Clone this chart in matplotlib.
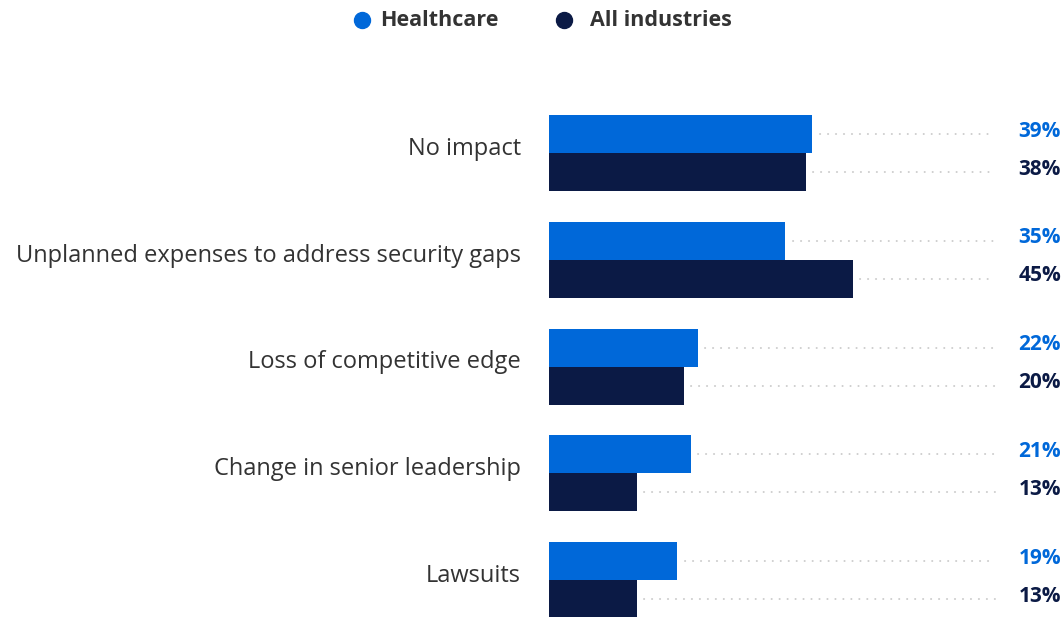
import matplotlib.pyplot as plt
import matplotlib.transforms as mtransforms
from matplotlib.lines import Line2D

plt.rcParams['font.family'] = ['Open Sans', 'DejaVu Sans']

# ── Dados ─────────────────────────────────────────────────────────────────────
categories = ["No impact",
              "Unplanned expenses to address security gaps",
              "Loss of competitive edge",
              "Change in senior leadership",
              "Lawsuits"]
healthcare = [39, 35, 22, 21, 19]
all_industries = [38, 45, 20, 13, 13]
series_names = ["Healthcare", "All industries"]

BLUE = '#0068d9'
NAVY = '#0b1a45'
GRAY_TXT = '#333333'
DOT = '#cccccc'

W, H = 1063, 617
fig = plt.figure(figsize=(W / 100, H / 100), dpi=100)

# eixo: x de 549 px a 995 px; y=0 em 153 px, passo 106.75 px
step = 106.75
top_px = 153 - 0.5 * step
ax = fig.add_axes([549 / W, 0, 446 / W, (H - top_px) / H])
xmax = 446 / 6.75
ax.set_xlim(0, xmax)
ax.set_ylim((H - 153) / step, -0.5)
ax.axis('off')

bh = 38 / step
txt_dy = -4 / step   # texto um pouco acima do centro da barra
trans = mtransforms.blended_transform_factory(fig.transFigure, ax.transData)

for i, (cat, h, a) in enumerate(zip(categories, healthcare, all_industries)):
    for val, off, col in [(h, -bh / 2, BLUE), (a, bh / 2, NAVY)]:
        ax.barh(i + off, val, height=bh, color=col, linewidth=0)
        ax.plot([val + 1.1, xmax], [i + off, i + off], color=DOT, lw=1.4,
                linestyle=(0, (0.1, 4.0)), dash_capstyle='round',
                solid_capstyle='round', clip_on=False)
        ax.text(1061 / W, i + off + txt_dy * 0.7, f"{val}%", transform=trans,
                ha='right', va='center', fontsize=15, fontweight='bold',
                color=col)
    ax.text(521 / W, i + txt_dy, cat, transform=trans, ha='right',
            va='center', fontsize=17, color=GRAY_TXT)

# ── Legenda ───────────────────────────────────────────────────────────────────
for xm, xt, col, name in [(362, 380, BLUE, series_names[0]),
                          (564, 590, NAVY, series_names[1])]:
    fig.add_artist(Line2D([xm / W], [1 - 20 / H], marker='o', markersize=11.5,
                          color=col, linestyle='none',
                          transform=fig.transFigure))
    fig.text(xt / W, 1 - 21 / H, name, ha='left', va='center', fontsize=15.5,
             fontweight='bold', color=GRAY_TXT)

fig.savefig('out.png', dpi=100)
